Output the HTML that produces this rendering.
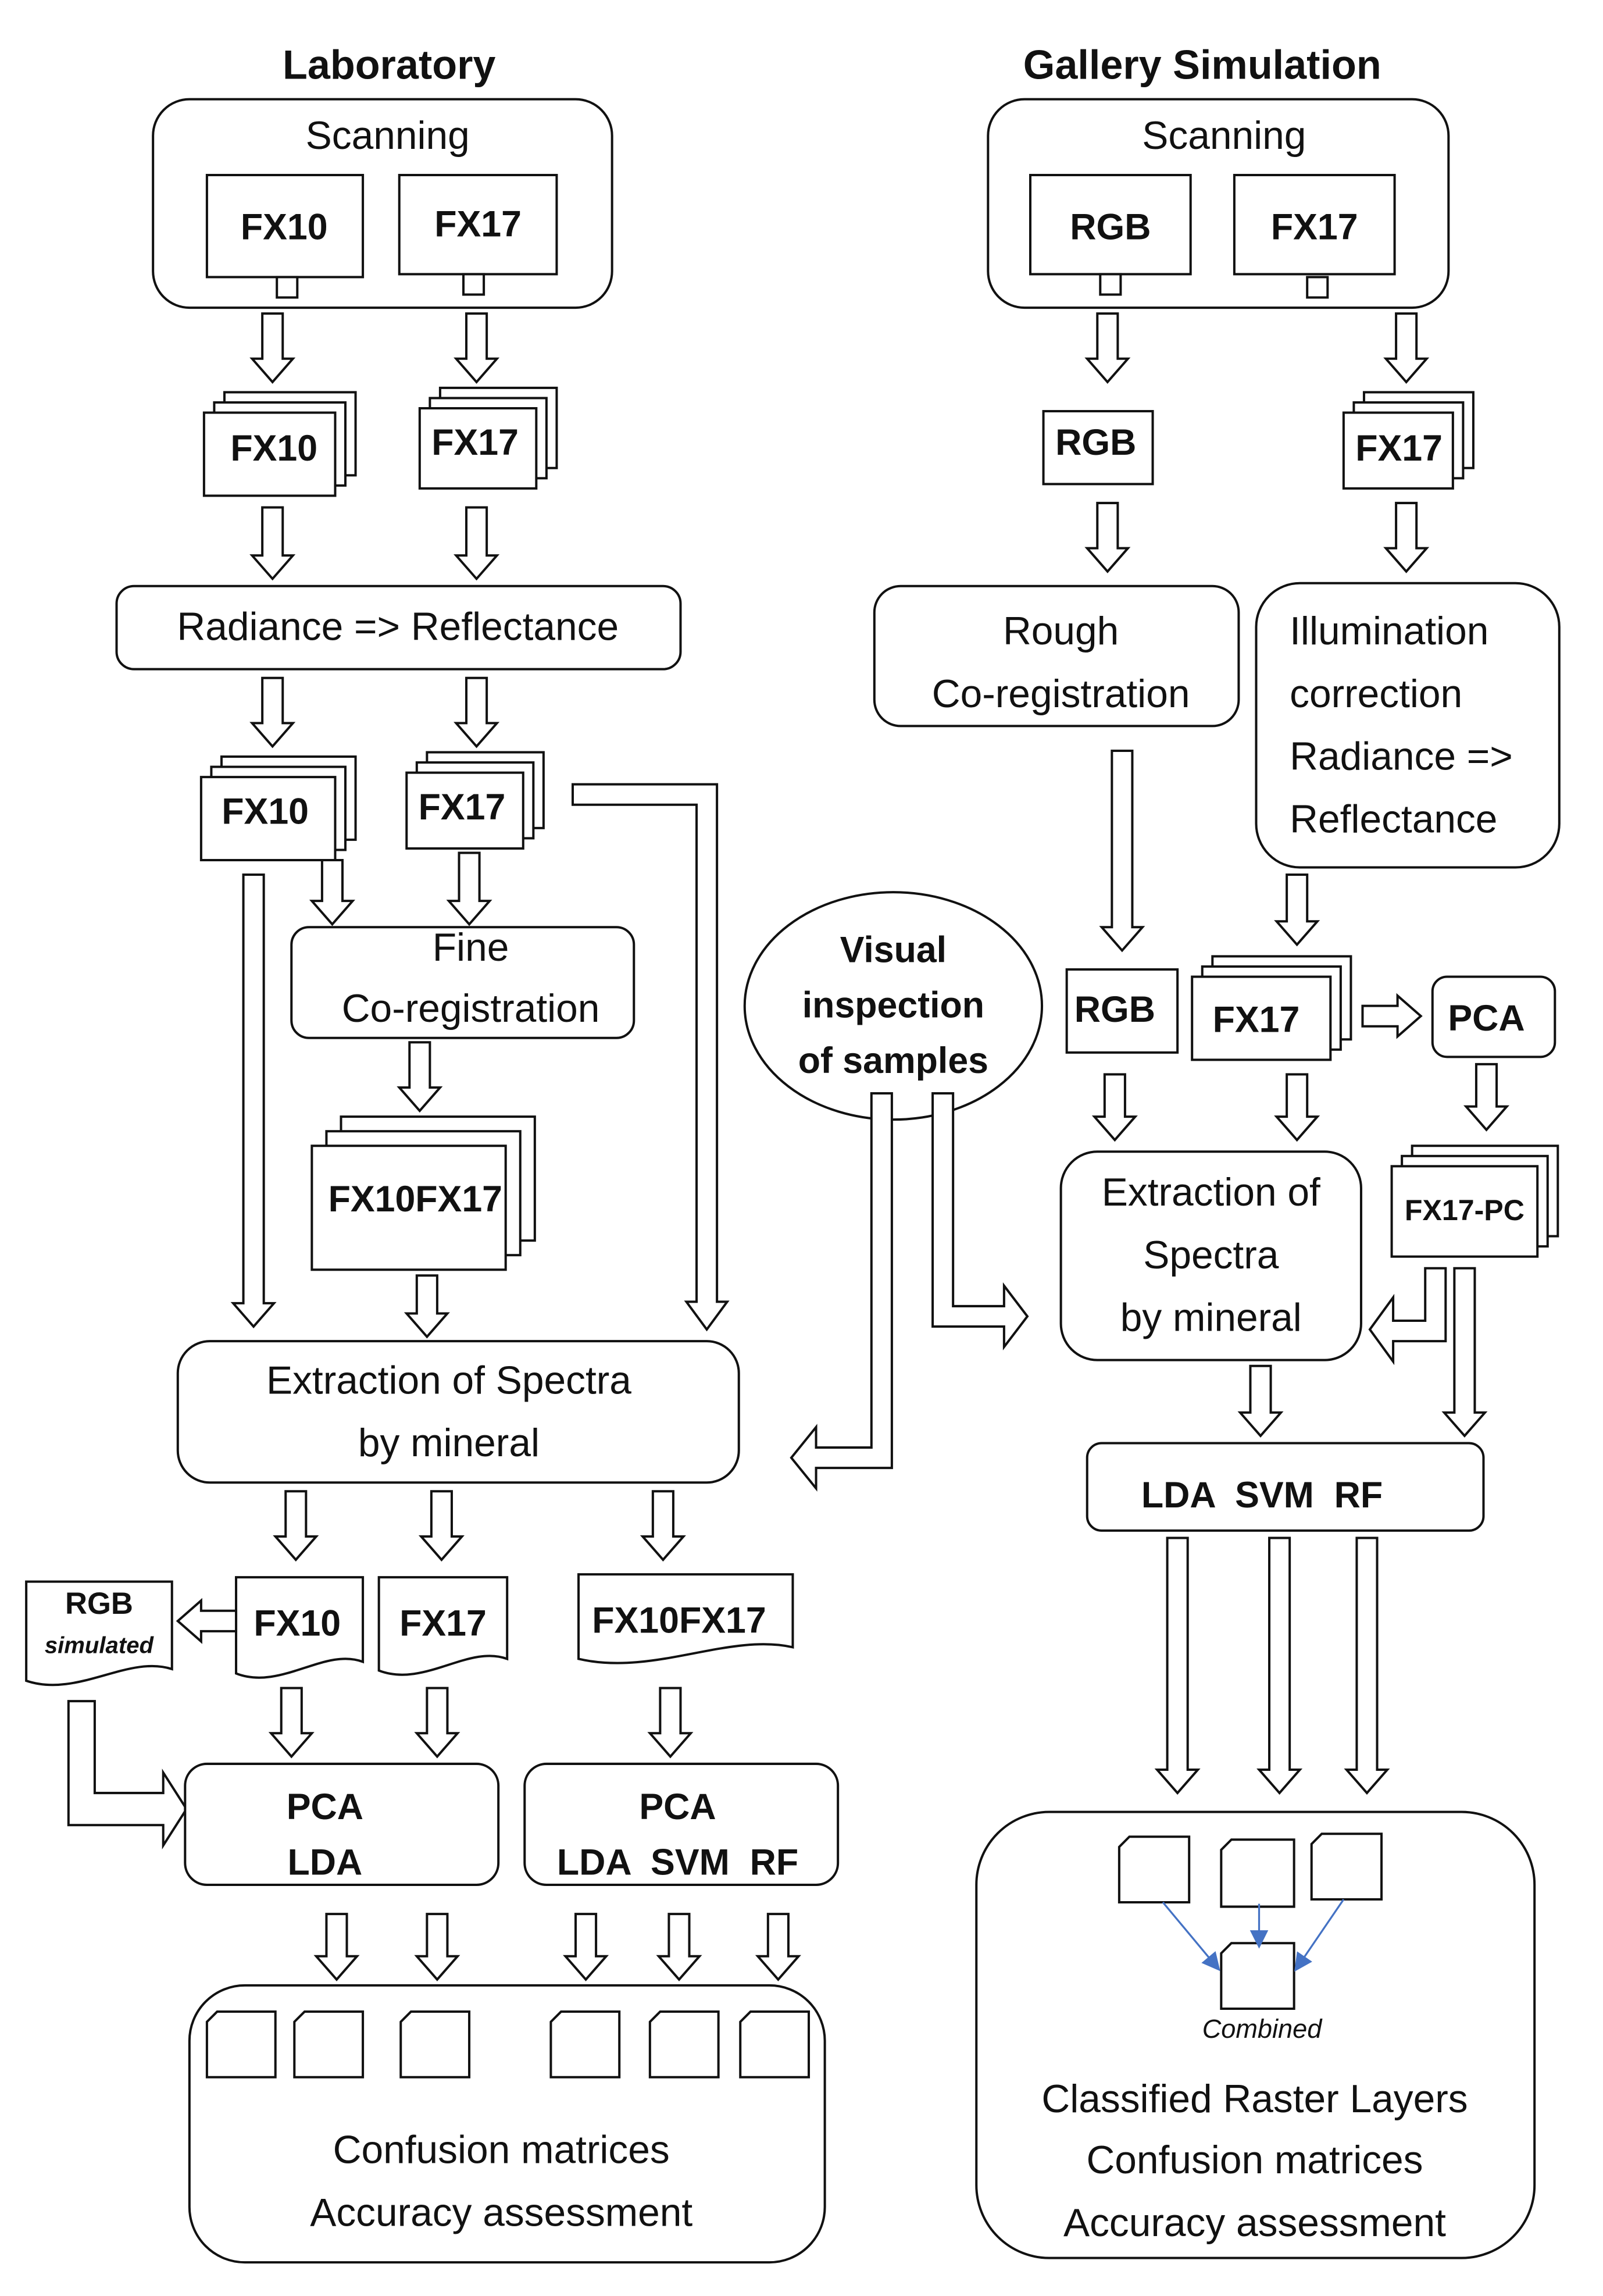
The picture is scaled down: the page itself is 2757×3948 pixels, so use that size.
<!DOCTYPE html>
<html><head><meta charset="utf-8"><style>
html,body{margin:0;padding:0;background:#fff}
svg{display:block}
text{font-family:"Liberation Sans",sans-serif;fill:#111;white-space:pre}
.t{font-size:27px}
.b{font-size:25px;font-weight:bold}
.h{font-size:28px;font-weight:bold}
</style></head><body>
<svg id="s" width="2757" height="3948" viewBox="0 0 1100 1575" xmlns="http://www.w3.org/2000/svg">
<g id="g" fill="#fff" stroke="#111" stroke-width="1.6"></g>
<g text-anchor="middle">
<text class="h" x="267" y="54">Laboratory</text>
<text class="h" x="825" y="54">Gallery Simulation</text>
<text class="t" x="266" y="102">Scanning</text>
<text class="b" x="195" y="164">FX10</text>
<text class="b" x="328" y="162">FX17</text>
<text class="t" x="840" y="102">Scanning</text>
<text class="b" x="762" y="164">RGB</text>
<text class="b" x="902" y="164">FX17</text>
<text class="b" x="188" y="316">FX10</text>
<text class="b" x="326" y="312">FX17</text>
<text class="b" x="752" y="312">RGB</text>
<text class="b" x="960" y="316">FX17</text>
<text class="t" x="273" y="439">Radiance =&gt; Reflectance</text>
<text class="b" x="182" y="565">FX10</text>
<text class="b" x="317" y="562">FX17</text>
<text class="t" x="323" y="659">Fine</text>
<text class="t" x="323" y="701">Co-registration</text>
<text class="b" x="285" y="831">FX10FX17</text>
<text class="t" x="308" y="956">Extraction of Spectra</text>
<text class="t" x="308" y="999">by mineral</text>
<text class="b" x="204" y="1122">FX10</text>
<text class="b" x="304" y="1122">FX17</text>
<text class="b" x="466" y="1120">FX10FX17</text>
<text style="font-size:21px;font-weight:bold" x="68" y="1107">RGB</text>
<text style="font-size:16px;font-weight:bold;font-style:italic" x="68" y="1134">simulated</text>
<text class="b" x="223" y="1248">PCA</text>
<text class="b" x="223" y="1286">LDA</text>
<text class="b" x="465" y="1248">PCA</text>
<text class="b" x="465" y="1286">LDA  SVM  RF</text>
<text class="t" x="344" y="1484">Confusion matrices</text>
<text class="t" x="344" y="1527">Accuracy assessment</text>
<text class="b" x="613" y="660">Visual</text>
<text class="b" x="613" y="698">inspection</text>
<text class="b" x="613" y="736">of samples</text>
<text class="t" x="728" y="442">Rough</text>
<text class="t" x="728" y="485">Co-registration</text>
<text class="b" x="765" y="701">RGB</text>
<text class="b" x="862" y="708">FX17</text>
<text class="b" x="1020" y="707">PCA</text>
<text style="font-size:20px;font-weight:bold" x="1005" y="837">FX17-PC</text>
<text class="t" x="831" y="827">Extraction of</text>
<text class="t" x="831" y="870">Spectra</text>
<text class="t" x="831" y="913">by mineral</text>
<text class="b" x="866" y="1034">LDA  SVM  RF</text>
<text style="font-size:18px;font-style:italic" x="866" y="1398">Combined</text>
<text class="t" x="861" y="1449">Classified Raster Layers</text>
<text class="t" x="861" y="1491">Confusion matrices</text>
<text class="t" x="861" y="1534">Accuracy assessment</text>
</g>
<g>
<text class="t" x="885" y="442">Illumination</text>
<text class="t" x="885" y="485">correction</text>
<text class="t" x="885" y="528">Radiance =&gt;</text>
<text class="t" x="885" y="571">Reflectance</text>
</g>
</svg>
<script>
var g=document.getElementById('g'),N='http://www.w3.org/2000/svg';
function el(t,a){var e=document.createElementNS(N,t);for(var k in a)e.setAttribute(k,a[k]);g.appendChild(e);return e;}
function rr(x,y,w,h,r){el('rect',{x:x,y:y,width:w,height:h,rx:r||0});}
function P(d){el('path',{d:d});}
function down(x,y1,y2){var s=7,hw=14,hh=16;P('M'+(x-s)+','+y1+'H'+(x+s)+'V'+(y2-hh)+'H'+(x+hw)+'L'+x+','+y2+'L'+(x-hw)+','+(y2-hh)+'H'+(x-s)+'Z');}
function right(y,x1,x2){var s=7,hw=14,hh=16;P('M'+x1+','+(y-s)+'H'+(x2-hh)+'V'+(y-hw)+'L'+x2+','+y+'L'+(x2-hh)+','+(y+hw)+'V'+(y+s)+'H'+x1+'Z');}
function left(y,x1,x2){var s=7,hw=14,hh=16;P('M'+x1+','+(y-s)+'H'+(x2+hh)+'V'+(y-hw)+'L'+x2+','+y+'L'+(x2+hh)+','+(y+hw)+'V'+(y+s)+'H'+x1+'Z');}
function stack(x,y,w,h,o){rr(x+2*o,y-2*o,w,h);rr(x+o,y-o,w,h);rr(x,y,w,h);}
function doc(x,y,w,h){P('M'+x+','+y+'H'+(x+w)+'V'+(y+h-12)+'C'+(x+w*0.7)+','+(y+h-22)+' '+(x+w*0.35)+','+(y+h+8)+' '+x+','+(y+h-4)+'Z');}
function cdoc(x,y,w,h){var c=7;P('M'+(x+c)+','+y+'H'+(x+w)+'V'+(y+h)+'H'+x+'V'+(y+c)+'Z');}
rr(105,68,315,143,25);rr(142,120,107,70);rr(190,190,14,14);rr(274,120,108,68);rr(318,188,14,14);
down(187,215,262);down(327,215,262);
stack(140,283,90,57,7);stack(288,280,80,55,7);
down(187,348,397);down(327,348,397);
rr(80,402,387,57,12);
down(187,465,512);down(327,465,512);
stack(138,533,92,57,7);stack(279,530,80,52,7);
down(174,600,910);down(228,590,634);down(322,585,634);
P('M393,538H492V893H499L485,912L471,893H478V552H393Z');
rr(200,636,235,76,12);
down(288,715,762);
stack(214,786,133,85,10);
down(293,875,917);
rr(122,920,385,97,22);
down(203,1023,1070);down(303,1023,1070);down(455,1023,1070);
doc(162,1082,87,70);doc(260,1082,88,68);doc(397,1080,147,62);doc(18,1085,100,72);
left(1112,162,122);
P('M47,1167H65V1230H112V1216L128,1241L112,1266V1252H47Z');
down(200,1158,1205);down(300,1158,1205);down(460,1158,1205);
rr(127,1210,215,83,15);rr(360,1210,215,83,15);
[231,300,402,466,534].forEach(function(x){down(x,1313,1358);});
rr(130,1362,436,190,38);
[142,202,275,378,446,508].forEach(function(x){cdoc(x,1380,47,45);});
el('ellipse',{cx:613,cy:690,rx:102,ry:78});
P('M598,750H612V1007H560V1021L543,1000L560,979V993H598Z');
P('M640,750H654V896H689V882L705,903L689,924V910H640Z');
rr(678,68,316,143,25);rr(707,120,110,68);rr(755,188,14,14);rr(847,120,110,68);rr(897,190,14,14);
down(760,215,262);down(965,215,262);
rr(716,282,75,50);stack(922,283,75,52,7);
down(760,345,392);down(965,345,392);
rr(600,402,250,96,18);rr(862,400,208,195,30);
down(770,515,652);down(890,600,648);
rr(732,665,76,57);stack(818,670,95,57,7);
right(697,935,975);
rr(983,670,84,55,10);
down(765,737,782);down(890,737,782);down(1020,730,775);
stack(955,800,100,62,7);
rr(728,790,206,143,25);
P('M978,870H992V920H956V934L940,912L956,890V906H978Z');
down(1005,870,985);down(865,937,985);
rr(746,990,272,60,10);
down(808,1055,1230);down(878,1055,1230);down(938,1055,1230);
rr(670,1243,383,306,50);
cdoc(768,1260,48,45);cdoc(838,1262,50,46);cdoc(900,1258,48,45);cdoc(838,1333,50,45);
var b=[[798,1305,833,1347],[864,1306,864,1330],[922,1303,892,1347]];
b.forEach(function(a){el('line',{x1:a[0],y1:a[1],x2:a[2],y2:a[3],stroke:'#4472c4','stroke-width':1.3});
var dx=a[2]-a[0],dy=a[3]-a[1],L=Math.sqrt(dx*dx+dy*dy),ux=dx/L,uy=dy/L,hx=a[2]+ux*5,hy=a[3]+uy*5;
el('path',{d:'M'+hx+','+hy+'L'+(hx-ux*10-uy*5)+','+(hy-uy*10+ux*5)+'L'+(hx-ux*10+uy*5)+','+(hy-uy*10-ux*5)+'Z',fill:'#4472c4',stroke:'#4472c4'});});
</script>
</body></html>
